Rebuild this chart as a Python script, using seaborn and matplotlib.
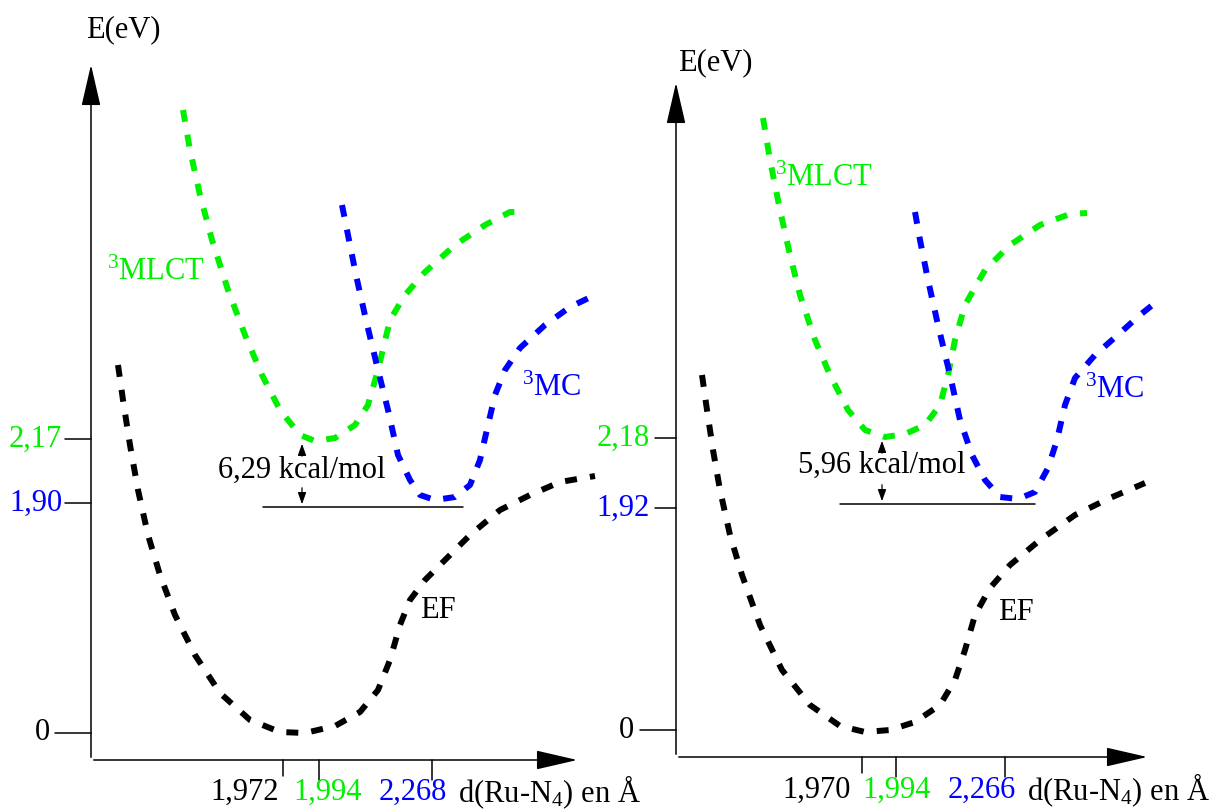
import numpy as np
import pandas as pd
import matplotlib
matplotlib.use("Agg")
import matplotlib.pyplot as plt
import seaborn as sns

sns.set_theme(style="white")
plt.rcParams['font.family'] = ['Liberation Serif', 'DejaVu Serif']
plt.rcParams['text.color'] = 'black'
plt.rcParams['mathtext.fontset'] = 'custom'
plt.rcParams['mathtext.rm'] = 'Liberation Serif'
plt.rcParams['mathtext.it'] = 'Liberation Serif:italic'

GREEN = '#00f000'
BLUE = '#0000ff'

# curves (figure pixels, y downwards)
left_ef_x = [118, 123, 130, 138, 148, 160, 175, 195, 220, 250, 280, 305, 335, 360, 378, 390, 400, 410, 425, 445, 470, 500, 530, 560, 595]
left_ef_y = [365, 400, 445, 490, 535, 575, 615, 655, 693, 720, 732, 733, 726, 712, 690, 660, 625, 600, 580, 560, 535, 510, 495, 482, 476]
left_mlct_x = [183, 190, 200, 212, 228, 245, 262, 280, 300, 315, 335, 355, 368, 378, 390, 405, 425, 455, 485, 510, 522]
left_mlct_y = [110, 150, 195, 240, 290, 335, 375, 410, 435, 441, 438, 425, 405, 370, 320, 295, 272, 245, 225, 212, 212]
left_mc_x = [342, 348, 356, 366, 378, 388, 398, 410, 420, 435, 455, 470, 480, 488, 495, 505, 520, 545, 570, 595]
left_mc_y = [205, 235, 275, 320, 370, 410, 455, 480, 495, 500, 497, 485, 460, 425, 395, 370, 348, 325, 307, 295]

right_ef_x = [702, 707, 713, 720, 730, 742, 760, 782, 810, 840, 865, 890, 915, 940, 955, 965, 975, 990, 1010, 1040, 1075, 1110, 1145]
right_ef_y = [375, 410, 450, 490, 535, 575, 625, 670, 705, 726, 732, 730, 722, 705, 680, 650, 615, 588, 565, 540, 515, 498, 483]
right_mlct_x = [763, 770, 780, 790, 800, 815, 830, 848, 865, 885, 905, 925, 940, 948, 955, 965, 985, 1010, 1040, 1070, 1087]
right_mlct_y = [118, 160, 210, 255, 295, 340, 375, 410, 430, 437, 434, 425, 405, 375, 340, 305, 270, 245, 225, 214, 213]
right_mc_x = [915, 920, 928, 938, 950, 960, 972, 985, 1000, 1018, 1035, 1048, 1057, 1065, 1075, 1095, 1120, 1140, 1155]
right_mc_y = [212, 240, 280, 325, 375, 420, 455, 480, 497, 499, 492, 468, 440, 405, 378, 355, 333, 315, 303]

left_xticks = ['1,972', '1,994', '2,268']
right_xticks = ['1,970', '1,994', '2,266']
left_yticks = ['0', '1,90', '2,17']
right_yticks = ['0', '1,92', '2,18']
left_gap = '6,29 kcal/mol'
right_gap = '5,96 kcal/mol'

fig = plt.figure(figsize=(12.15, 8.1), dpi=100)
ax = fig.add_axes([0, 0, 1, 1])
ax.set_xlim(0, 1215)
ax.set_ylim(810, 0)
ax.axis('off')

dash = dict(linewidth=4.3, dashes=(2.0, 2.2))
curves = [(left_ef_x, left_ef_y, 'black'), (left_mlct_x, left_mlct_y, GREEN), (left_mc_x, left_mc_y, BLUE),
          (right_ef_x, right_ef_y, 'black'), (right_mlct_x, right_mlct_y, GREEN), (right_mc_x, right_mc_y, BLUE)]
for cx, cy, col in curves:
    sns.lineplot(x=cx, y=cy, sort=False, color=col, ax=ax, estimator=None, **dash)
for line in ax.lines:
    line.set_dash_capstyle('butt')

fs = 22
tick_colors = ['black', GREEN, BLUE]

def panel(x0, y_top, y_ax, x_end, xt_pos, xt_lab, xt_y, lab_x, yt_pos, yt_lab, yt_left, yt_x,
          ef, mlct, mc, ebox, hl, gap_x, gap_top, gap_text, gap_ty):
    arw = dict(arrowstyle='-|>,head_length=1.3,head_width=0.3', lw=1.1, color='black', mutation_scale=20)
    ax.annotate('', xy=(x0, y_top), xytext=(x0, y_ax), arrowprops=arw)
    ax.annotate('', xy=(x_end, y_ax), xytext=(x0, y_ax), arrowprops=arw)
    ax.text(ebox[0], ebox[1], 'E(eV)', fontsize=fs, ha='left', va='center')
    for px, tl in zip(xt_pos, [16, 20, 20]):
        ax.plot([px, px], [y_ax, y_ax + tl], color='black', lw=1.1)
    for lx, lab, col in zip(lab_x, xt_lab, tick_colors):
        ax.text(lx, xt_y, lab, fontsize=fs, color=col, ha='center', va='center')
    ax.text(lab_x[3], xt_y, r'd(Ru-N$_4$) en Å', fontsize=fs, ha='left', va='center')
    for py, lab, col, tl in zip(yt_pos, yt_lab, ['black', BLUE, GREEN], yt_left):
        ax.plot([tl, x0], [py, py], color='black', lw=1.1)
        ax.text(yt_x[0] if lab == '0' else yt_x[1], py, lab, fontsize=fs, color=col, ha='right', va='center')
    ax.text(ef[0], ef[1], 'EF', fontsize=fs, ha='left', va='center')
    ax.text(mlct[0], mlct[1], r'$^{3}$MLCT', fontsize=fs, color=GREEN, ha='left', va='center')
    ax.text(mc[0], mc[1], r'$^{3}$MC', fontsize=fs, color=BLUE, ha='left', va='center')
    ax.plot([hl[0], hl[1]], [hl[2], hl[2]], color='black', lw=1.1)
    small = dict(arrowstyle='-|>,head_length=0.5,head_width=0.18', lw=0.9, color='black', mutation_scale=14)
    ax.annotate('', xy=(gap_x, gap_top), xytext=(gap_x, gap_top + 18), arrowprops=small)
    ax.annotate('', xy=(gap_x, hl[2]), xytext=(gap_x, hl[2] - 22), arrowprops=small)
    ax.text(gap_x, gap_ty, gap_text, fontsize=fs, ha='center', va='center')

panel(91, 62, 760, 580, [283, 319, 432], left_xticks, 792, [245, 328, 413, 458],
      [733, 503, 439], left_yticks, [55, 65, 65], [50, 62],
      (420, 610), (107, 272), (522, 388), (86, 30), (263, 463, 507), 302, 441, left_gap, 470)
panel(676, 80, 757, 1150, [862, 896, 1005], right_xticks, 790, [817, 897, 982, 1027],
      [730, 508, 438], right_yticks, [640, 655, 655], [634, 650],
      (998, 612), (775, 178), (1085, 390), (678, 63), (840, 1035, 504), 882, 438, right_gap, 465)

fig.savefig('out.png', dpi=100)
